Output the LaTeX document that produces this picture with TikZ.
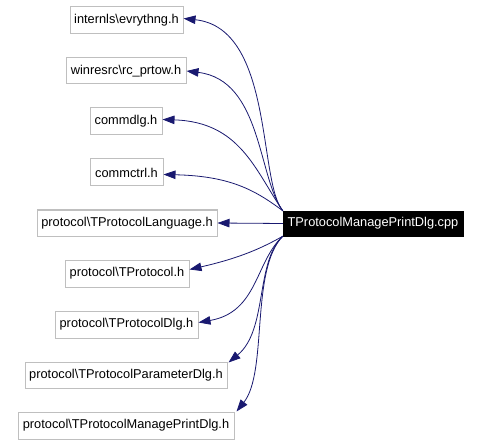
\documentclass[tikz,border=0pt]{standalone}
\usepackage{fontspec}
\setmainfont{Liberation Sans}
\usetikzlibrary{arrows.meta}
\definecolor{edgeblue}{HTML}{191970}
\definecolor{boxgray}{HTML}{BFBFBF}
\tikzset{
  filebox/.style={draw=boxgray, line width=1pt, fill=white, inner sep=0pt, font=\fontsize{12.8}{14}\selectfont, text=black},
  mainbox/.style={draw=black, fill=black, inner sep=0pt, font=\fontsize{12.8}{14}\selectfont, text=white},
  dep/.style={draw=edgeblue, line width=0.8pt, -{Triangle[length=12pt,width=8.5pt]}, fill=none},
}
\begin{document}
\begin{tikzpicture}[x=1pt,y=-1pt]
\useasboundingbox (0,0) rectangle (481,446);
\node[mainbox, minimum width=180pt, minimum height=25pt] (cpp) at (373,223.5) {TProtocolManagePrintDlg.cpp};
\node[filebox, minimum width=113pt, minimum height=27pt] (ev) at (126.5,20.5) {internls\textbackslash evrythng.h};
\node[filebox, minimum width=120pt, minimum height=26pt] (rc) at (126,71) {winresrc\textbackslash rc\_prtow.h};
\node[filebox, minimum width=72pt, minimum height=27pt] (cd) at (126,121.5) {commdlg.h};
\node[filebox, minimum width=73pt, minimum height=27pt] (cc) at (126.5,172.5) {commctrl.h};
\node[filebox, minimum width=180pt, minimum height=26pt] (lang) at (127,223) {protocol\textbackslash TProtocolLanguage.h};
\node[filebox, minimum width=124pt, minimum height=27pt] (tp) at (127,273.5) {protocol\textbackslash TProtocol.h};
\node[filebox, minimum width=143pt, minimum height=27pt] (tpd) at (126.5,324.5) {protocol\textbackslash TProtocolDlg.h};
\node[filebox, minimum width=202pt, minimum height=26pt] (par) at (126,375) {protocol\textbackslash TProtocolParameterDlg.h};
\node[filebox, minimum width=216pt, minimum height=27pt] (mpd) at (126,425.5) {protocol\textbackslash TProtocolManagePrintDlg.h};

\draw[dep] (cpp.north west) .. controls (258,182) and (274,28) .. ([yshift=2pt]ev.east);
\draw[dep] (cpp.north west) .. controls (258,178) and (262,80) .. (rc.east);
\draw[dep] (cpp.north west) .. controls (255,170) and (240,122) .. ([yshift=2pt]cd.east);
\draw[dep] (cpp.north west) .. controls (255,190) and (230,176) .. ([yshift=-2pt]cc.east);
\draw[dep] (cpp.west) -- (lang.east);
\draw[dep] (cpp.south west) .. controls (262,248) and (240,258) .. ([yshift=4pt]tp.east);
\draw[dep] (cpp.south west) .. controls (255,262) and (258,312) .. ([yshift=2pt]tpd.east);
\draw[dep] (cpp.south west) .. controls (255,262) and (268,330) .. ([xshift=1pt,yshift=-1pt]par.north east);
\draw[dep] (cpp.south west) .. controls (250,270) and (268,372) .. ([xshift=2pt]mpd.north east);
\end{tikzpicture}
\end{document}
